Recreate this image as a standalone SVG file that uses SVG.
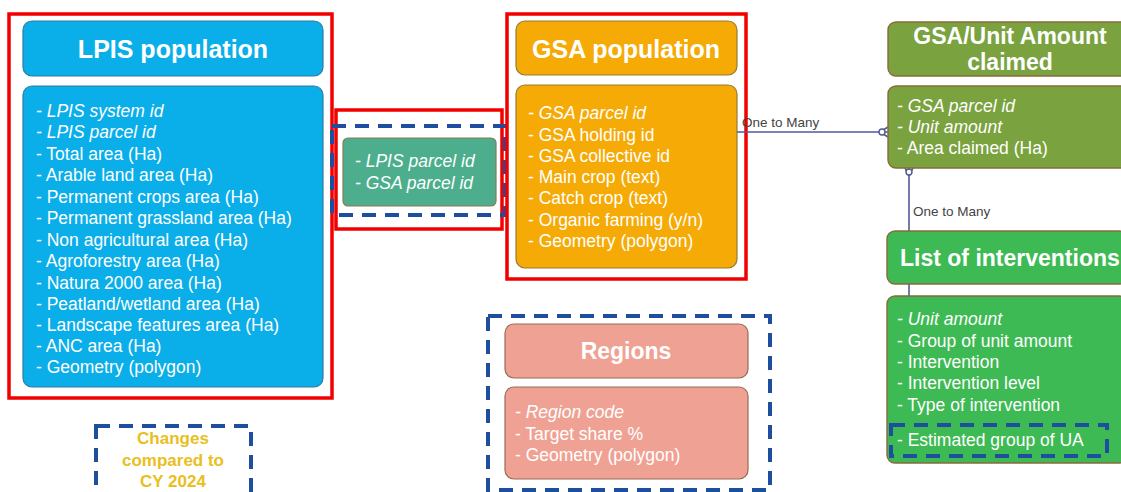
<svg xmlns="http://www.w3.org/2000/svg" width="1121" height="492" viewBox="0 0 1121 492">
<style>
.t{font-family:"Liberation Sans",Arial,sans-serif;fill:#fff}
.h{font-weight:bold;text-anchor:middle}
.b{font-size:17.5px}
.i{font-style:italic}
.red{fill:none;stroke:#f20000;stroke-width:3.5}
.dash{fill:none;stroke:#1d4f9e;stroke-width:4;stroke-dasharray:14 9}
.lbl{font-family:"Liberation Sans",Arial,sans-serif;font-size:13.5px;fill:#444}
.con{fill:none;stroke:#4f5b96;stroke-width:1.6}
</style>
<rect width="1121" height="492" fill="#fff"/>

<g id="lpis">
<rect class="red" x="9" y="14" width="323" height="384"/>
<rect x="23" y="21" width="300" height="55" rx="9" fill="#0aaee9" stroke="#2a7fa0" stroke-width="1.2"/>
<text class="t h" x="173" y="58" font-size="25">LPIS population</text>
<rect x="23" y="86" width="300" height="301" rx="9" fill="#0aaee9" stroke="#2a7fa0" stroke-width="1.2"/>
<g class="t b">
<text class="i" x="36" y="117">- LPIS system id</text>
<text class="i" x="36" y="138">- LPIS parcel id</text>
<text x="36" y="160">- Total area (Ha)</text>
<text x="36" y="181">- Arable land area (Ha)</text>
<text x="36" y="203">- Permanent crops area (Ha)</text>
<text x="36" y="224">- Permanent grassland area (Ha)</text>
<text x="36" y="246">- Non agricultural area (Ha)</text>
<text x="36" y="267">- Agroforestry area (Ha)</text>
<text x="36" y="289">- Natura 2000 area (Ha)</text>
<text x="36" y="310">- Peatland/wetland area (Ha)</text>
<text x="36" y="331">- Landscape features area (Ha)</text>
<text x="36" y="352">- ANC area (Ha)</text>
<text x="36" y="373">- Geometry (polygon)</text>
</g>
</g>

<g id="link">
<rect class="red" x="336" y="110" width="166" height="119"/>
<rect class="dash" x="332" y="126" width="173" height="89"/>
<rect x="343" y="138" width="153" height="68" rx="5" fill="#4cae8d" stroke="#8a7a55" stroke-width="1.2"/>
<text class="t i" x="355" y="167" font-size="17.5">- LPIS parcel id</text>
<text class="t i" x="355" y="189" font-size="17.5">- GSA parcel id</text>
</g>

<g id="gsa">
<rect class="red" x="507" y="14" width="239" height="265"/>
<rect x="516" y="21" width="221" height="54" rx="9" fill="#f5aa06" stroke="#9a7a30" stroke-width="1.2"/>
<text class="t h" x="626" y="58" font-size="25">GSA population</text>
<rect x="516" y="85" width="221" height="183" rx="9" fill="#f5aa06" stroke="#9a7a30" stroke-width="1.2"/>
<g class="t b">
<text class="i" x="528" y="119">- GSA parcel id</text>
<text x="528" y="141">- GSA holding id</text>
<text x="528" y="162">- GSA collective id</text>
<text x="528" y="183">- Main crop (text)</text>
<text x="528" y="204">- Catch crop (text)</text>
<text x="528" y="226">- Organic farming (y/n)</text>
<text x="528" y="247">- Geometry (polygon)</text>
</g>
</g>

<g id="connectors">
<line class="con" x1="737" y1="132" x2="888" y2="132"/>
<path class="con" d="M880 132 L888 127 M880 132 L888 137"/>
<circle cx="882" cy="132" r="3" fill="#fff" stroke="#4f5b96" stroke-width="1.4"/>
<text class="lbl" x="742" y="127">One to Many</text>
<line class="con" x1="909" y1="168" x2="909" y2="296"/>
<path class="con" d="M909 176 L905 168 M909 176 L913 168"/>
<circle cx="909" cy="172" r="3" fill="#fff" stroke="#4f5b96" stroke-width="1.4"/>
<text class="lbl" x="913" y="216">One to Many</text>
</g>

<g id="gsa-ua">
<rect x="888" y="22" width="240" height="54" rx="8" fill="#7aa23e" stroke="#8a6a3e" stroke-width="1.4"/>
<text class="t h" x="1010" y="44" font-size="23">GSA/Unit Amount</text>
<text class="t h" x="1010" y="70" font-size="23">claimed</text>
<rect x="888" y="86" width="240" height="82" rx="8" fill="#7aa23e" stroke="#8a6a3e" stroke-width="1.4"/>
<g class="t b">
<text class="i" x="897" y="112">- GSA parcel id</text>
<text class="i" x="897" y="133">- Unit amount</text>
<text x="897" y="154">- Area claimed (Ha)</text>
</g>
</g>

<g id="interventions">
<rect x="887" y="231" width="240" height="53" rx="8" fill="#3dba53" stroke="#8a6a3e" stroke-width="1.4"/>
<text class="t" x="900" y="266" font-size="23" font-weight="bold">List of interventions</text>
<rect x="887" y="296" width="240" height="167" rx="8" fill="#3dba53" stroke="#8a6a3e" stroke-width="1.4"/>
<g class="t b">
<text class="i" x="897" y="325">- Unit amount</text>
<text x="897" y="347">- Group of unit amount</text>
<text x="897" y="368">- Intervention</text>
<text x="897" y="389">- Intervention level</text>
<text x="897" y="411">- Type of intervention</text>
<text x="897" y="446">- Estimated group of UA</text>
</g>
<rect class="dash" x="891" y="425" width="216" height="31"/>
</g>

<g id="regions">
<rect class="dash" x="488" y="316" width="282" height="174"/>
<rect x="505" y="324" width="243" height="54" rx="9" fill="#efa294" stroke="#9a6a55" stroke-width="1.2"/>
<text class="t h" x="626" y="359" font-size="23">Regions</text>
<rect x="505" y="387" width="243" height="92" rx="9" fill="#efa294" stroke="#9a6a55" stroke-width="1.2"/>
<g class="t b">
<text class="i" x="515" y="418">- Region code</text>
<text x="515" y="440">- Target share %</text>
<text x="515" y="461">- Geometry (polygon)</text>
</g>
</g>

<g id="legend">
<rect class="dash" x="96" y="426" width="155" height="70"/>
<g font-family="'Liberation Sans',Arial,sans-serif" font-size="17" font-weight="bold" fill="#e8c01e" text-anchor="middle">
<text x="173" y="444">Changes</text>
<text x="173" y="466">compared to</text>
<text x="173" y="487">CY 2024</text>
</g>
</g>
</svg>
